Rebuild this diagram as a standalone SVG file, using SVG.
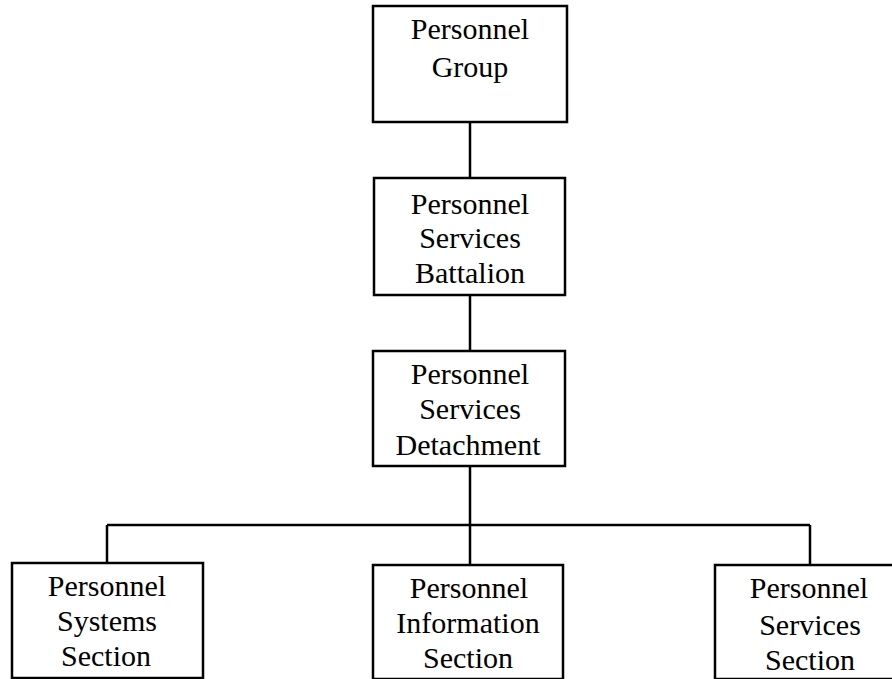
<svg xmlns="http://www.w3.org/2000/svg" width="892" height="679" viewBox="0 0 892 679">
<style>
.box{fill:#fff;stroke:#000;stroke-width:2.5}
.ln{fill:none;stroke:#000;stroke-width:2.5}
text{font-family:"Liberation Serif","Times New Roman",serif;font-size:30px;fill:#000;text-anchor:middle}
</style>
<rect width="892" height="679" fill="#fff"/>
<g id="connectors">
<path class="ln" d="M470 122V178M470 295V351M470 466V565M107 525H810M107 525V563M810 525V565"/>
</g>
<g id="personnel-group">
<rect class="box" x="373" y="6" width="194" height="116"/>
<text x="470" y="39">Personnel</text>
<text x="470" y="77">Group</text>
</g>
<g id="personnel-services-battalion">
<rect class="box" x="374" y="178" width="191" height="117"/>
<text x="470" y="214">Personnel</text>
<text x="470" y="248">Services</text>
<text x="470" y="283">Battalion</text>
</g>
<g id="personnel-services-detachment">
<rect class="box" x="373" y="351" width="192" height="115"/>
<text x="470" y="384">Personnel</text>
<text x="470" y="419">Services</text>
<text x="468" y="455">Detachment</text>
</g>
<g id="personnel-systems-section">
<rect class="box" x="12" y="563" width="191" height="115"/>
<text x="107" y="596">Personnel</text>
<text x="107" y="631">Systems</text>
<text x="106" y="666">Section</text>
</g>
<g id="personnel-information-section">
<rect class="box" x="373" y="565" width="190" height="114"/>
<text x="469" y="598">Personnel</text>
<text x="468" y="633">Information</text>
<text x="468" y="668">Section</text>
</g>
<g id="personnel-services-section">
<rect class="box" x="715" y="565" width="190" height="114"/>
<text x="809" y="598">Personnel</text>
<text x="810" y="635">Services</text>
<text x="810" y="670">Section</text>
</g>
</svg>
